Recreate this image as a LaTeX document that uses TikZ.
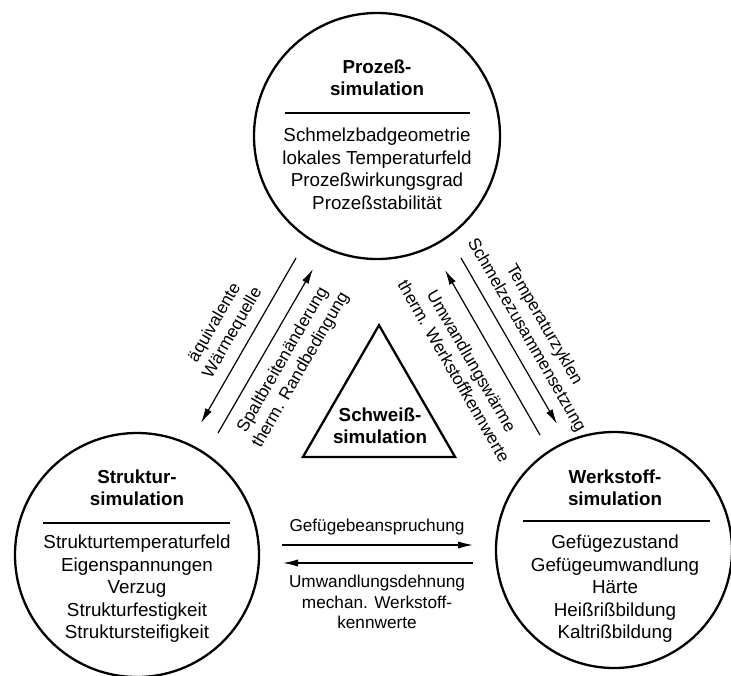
\documentclass[tikz,border=0pt]{standalone}
\usepackage{fontspec}
\setmainfont{Liberation Sans}
\usepackage{tikz}
\usetikzlibrary{arrows.meta, positioning, shapes.geometric}

\tikzset{
  simcircle/.style = {circle, draw, line width=1.15pt, inner sep=0pt},
  simtitle/.style = {align=center, font=\fontsize{9.4}{11}\selectfont\bfseries},
  simbody/.style = {align=center, font=\fontsize{9.4}{11.25}\selectfont},
  flowlabel/.style = {align=center, font=\fontsize{8.6}{10.3}\selectfont},
  flow/.style = {line width=0.6pt, -{Latex[length=7.5pt,width=3.6pt]}},
  divider/.style = {line width=0.8pt}
}

\begin{document}
\begin{tikzpicture}[x=0.5pt, y=-0.5pt]
    \useasboundingbox (0,0) rectangle (731,675);
    \node (prozess) [simcircle, minimum size=123pt] at (377,136) {};
    \node (struktur) [simcircle, minimum size=122pt] at (137,555) {};
    \node (werkstoff) [simcircle, minimum size=118pt] at (614,550) {};
    \node (schweiss) [regular polygon, regular polygon sides=3, draw, line width=1.15pt, inner sep=0pt, minimum size=87.8pt] at (379,413) {};

    \node (prozesstitle) [simtitle] at (377,78) {Prozeß-\\simulation};
    \node (prozessbody) [simbody] at (377,169) {Schmelzbadgeometrie\\lokales Temperaturfeld\\Prozeßwirkungsgrad\\Prozeßstabilität};
    \draw [divider] (285,113) -- (470,113);

    \node (strukturtitle) [simtitle] at (137,488) {Struktur-\\simulation};
    \node (strukturbody) [simbody] at (137,589) {Strukturtemperaturfeld\\Eigenspannungen\\Verzug\\Strukturfestigkeit\\Struktursteifigkeit};
    \draw [divider] (43,523) -- (230,523);

    \node (werkstofftitle) [simtitle] at (615,488) {Werkstoff-\\simulation};
    \node (werkstoffbody) [simbody] at (615,589) {Gefügezustand\\Gefügeumwandlung\\Härte\\Heißrißbildung\\Kaltrißbildung};
    \draw [divider] (523,521) -- (710,521);

    \node (schweisstitle) [simtitle] at (380,426) {Schweiß-\\simulation};

    \coordinate (qa) at (296,258);
    \coordinate (qb) at (201,423);
    \coordinate (ra) at (218,433);
    \coordinate (rb) at (313,269);
    \coordinate (ta) at (461,258);
    \coordinate (tb) at (557,424);
    \coordinate (ua) at (540,435);
    \coordinate (ub) at (445,270);
    \coordinate (ga) at (282,545);
    \coordinate (gb) at (473,545);
    \coordinate (ha) at (473,563);
    \coordinate (hb) at (283,563);
    \path [flow]
    (qa) edge (qb)
    (ra) edge (rb)
    (ta) edge (tb)
    (ua) edge (ub)
    (ga) edge (gb)
    (ha) edge (hb);

    \node (waerme) [flowlabel, rotate=60] at (224,328) {äquivalente\\Wärmequelle};
    \node (spalt) [flowlabel, rotate=60] at (292,365) {Spaltbreitenänderung\\therm. Randbedingung};
    \node (temperatur) [flowlabel, rotate=-60] at (535,330) {Temperaturzyklen\\Schmelzezusammensetzung};
    \node (umwandlung) [flowlabel, rotate=-60] at (463,366) {Umwandlungswärme\\therm. Werkstoffkennwerte};
    \node (gefuege) [flowlabel] at (377,527) {Gefügebeanspruchung};
    \node (dehnung) [flowlabel] at (377,602) {Umwandlungsdehnung\\mechan. Werkstoff-\\kennwerte};
\end{tikzpicture}
\end{document}
